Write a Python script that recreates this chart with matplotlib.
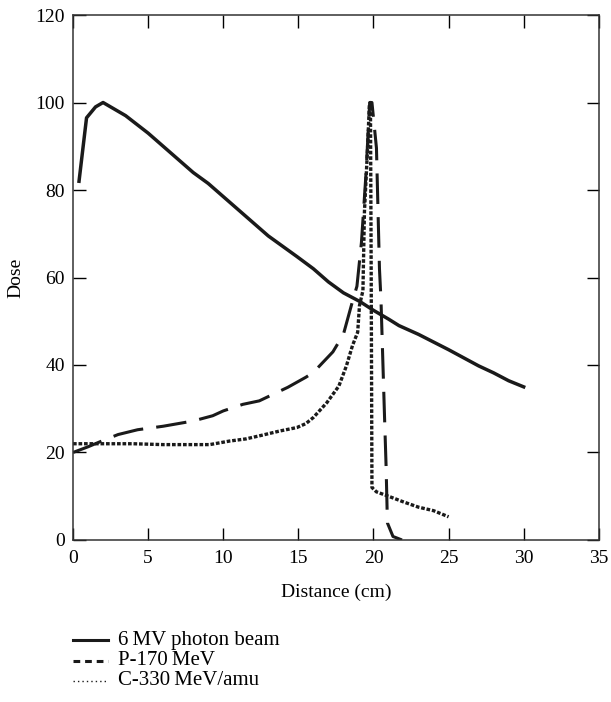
import matplotlib
matplotlib.use("Agg")
import matplotlib.pyplot as plt
from matplotlib.lines import Line2D

plt.rcParams["font.family"] = ["Liberation Serif", "DejaVu Serif"]

# 6 MV photon beam
photon_x = [0.4, 0.9, 1.5, 2.0, 3.0, 3.5, 5.0, 6.0, 7.0, 8.0, 9.0, 10.0, 11.9, 13.0,
            14.9, 16.0, 17.0, 18.0, 19.1, 20.0, 21.0, 21.7, 23.0, 25.0, 27.0, 28.0, 29.0, 30.0]
photon_y = [82, 96.5, 99, 100, 98, 97, 93, 90, 87, 84, 81.5, 78.5, 72.8, 69.5,
            64.8, 62, 59, 56.5, 54.5, 52.5, 50.5, 49, 47, 43.5, 39.8, 38.2, 36.4, 35]

# P-170 MeV proton beam
proton_x = [0.0, 1.0, 1.9, 3.0, 4.3, 6.0, 8.0, 9.3, 10.0, 11.3, 12.4, 14.3, 15.5, 16.0,
            17.3, 18.0, 18.6, 18.9, 19.2, 19.5, 19.75, 19.9, 20.2, 20.4, 20.5, 20.73,
            20.84, 20.93, 21.3, 21.9]
proton_y = [20, 21.3, 22.6, 24.1, 25.2, 26, 27.2, 28.4, 29.5, 31, 31.8, 34.9, 37.2, 38.3,
            43, 47, 54.5, 58, 68, 83.5, 100, 100, 89.6, 62, 55, 29,
            17, 3.9, 0.8, 0]

# C-330 MeV/amu carbon beam
carbon_x = [0.0, 2.0, 4.0, 6.0, 8.0, 9.1, 10.4, 11.5, 12.4, 13.75, 14.9, 15.5, 16.0, 16.9,
            17.7, 18.2, 18.6, 18.95, 19.07, 19.3, 19.4, 19.6, 19.73, 19.8, 19.85, 19.9,
            20.2, 21.0, 22.0, 23.0, 24.0, 25.0]
carbon_y = [22, 22, 22, 21.8, 21.8, 21.8, 22.6, 23.1, 23.8, 24.9, 25.7, 26.6, 28, 31.4,
            35.2, 39.8, 44.4, 47.5, 53.6, 57, 75, 89, 99.6, 100, 60, 12,
            11, 10, 8.7, 7.5, 6.7, 5.3]

labels = ["6\u2009MV photon beam", "P-170\u2009MeV", "C-330\u2009MeV/amu"]

fig = plt.figure(figsize=(6.11, 7.02), dpi=100)
ax = fig.add_axes([0.1195, 0.2308, 0.8605, 0.7478])

ink = "#1a1a1a"
ax.plot(photon_x, photon_y, color=ink, linewidth=2.5, solid_joinstyle="round")
ax.plot(proton_x, proton_y, color=ink, linewidth=2.2,
        linestyle=(0, (10, 4.3)), dash_capstyle="butt")
ax.plot(carbon_x, carbon_y, color=ink, linewidth=2.4,
        linestyle=(0, (1.1, 0.55)), dash_capstyle="butt")

ax.set_xlim(0, 35)
ax.set_ylim(0, 120)
ax.set_xticks(range(0, 36, 5))
ax.set_yticks(range(0, 121, 20))
ax.tick_params(axis="y", direction="in", length=9, width=1,
               labelsize=14, right=True, pad=6)
ax.tick_params(axis="x", direction="in", length=9, width=1,
               labelsize=14, top=True, pad=7)
for s in ax.spines.values():
    s.set_linewidth(1.1)
    s.set_color("#333333")

ax.set_xlabel("Distance (cm)", fontsize=14, labelpad=12)
ax.set_ylabel("Dose", fontsize=14, labelpad=8)

# legend drawn below the axes
styles = [dict(linewidth=2.2, linestyle="-"),
          dict(linewidth=2.2, linestyle=(0, (2.2, 1.6)), dash_capstyle="butt"),
          dict(linewidth=1.0, linestyle=(0, (1, 2.2)))]
ys = [0.088, 0.059, 0.030]
for lab, st, yy in zip(labels, styles, ys):
    fig.add_artist(Line2D([0.119, 0.177], [yy, yy], color=ink,
                          transform=fig.transFigure, **st))
    fig.text(0.193, yy, lab, fontsize=15, va="center", ha="left")

fig.savefig("out.png", dpi=100)
